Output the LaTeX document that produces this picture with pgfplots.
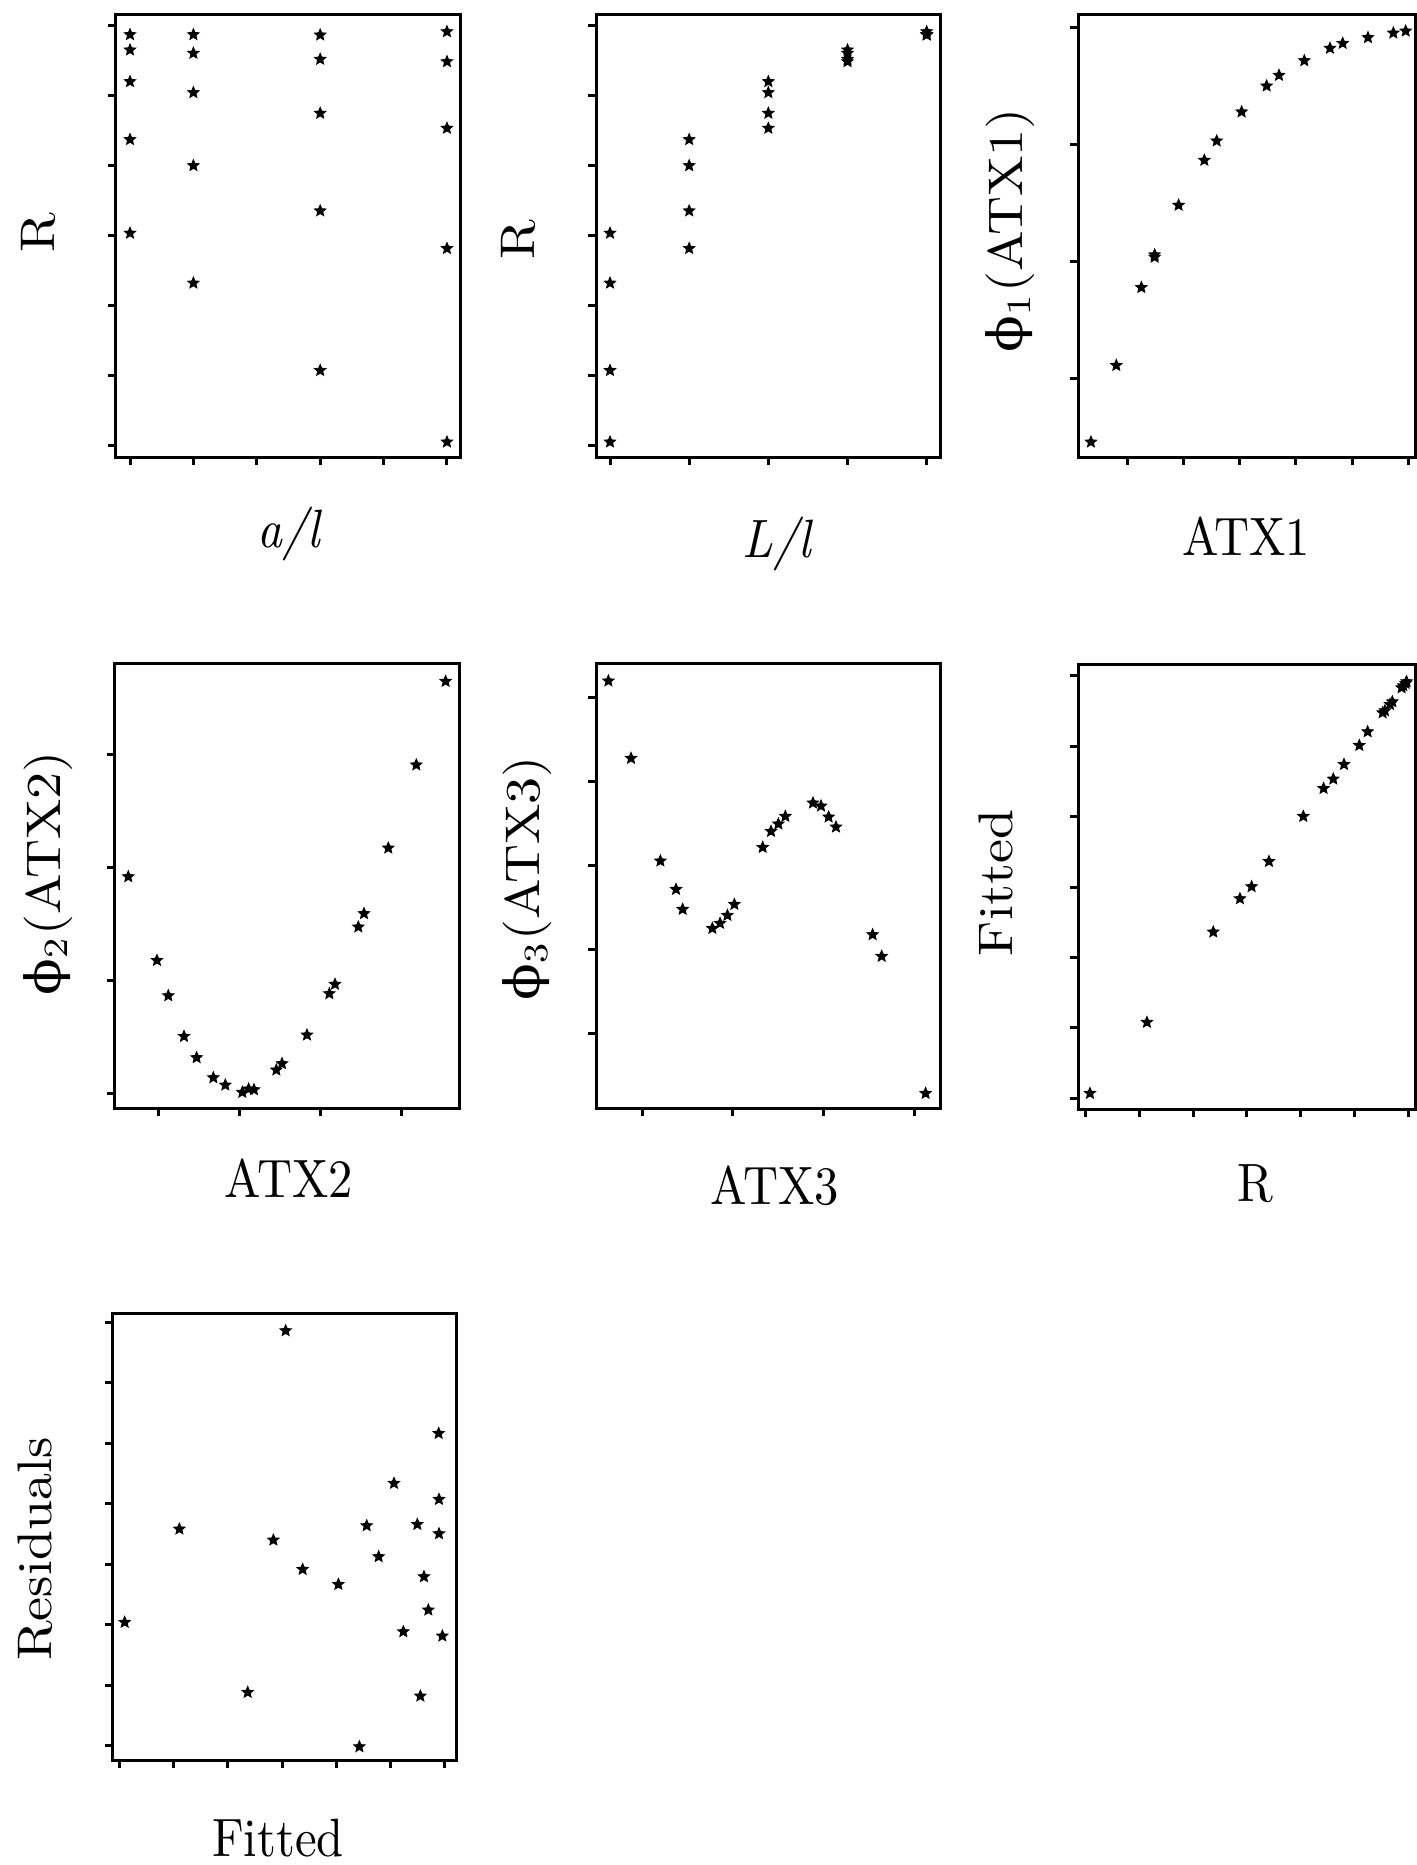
\documentclass[border=0pt]{standalone}
\usepackage{fontspec}
\usepackage{graphicx}
\usepackage{pgfplots}
\pgfplotsset{compat=1.18}
\newfontfamily\grk{DejaVu Serif}
\pgfdeclareplotmark{fstar}{%
  \pgfpathmoveto{\pgfpointpolar{90}{\pgfplotmarksize}}%
  \pgfpathlineto{\pgfpointpolar{126}{0.45\pgfplotmarksize}}%
  \pgfpathlineto{\pgfpointpolar{162}{\pgfplotmarksize}}%
  \pgfpathlineto{\pgfpointpolar{198}{0.45\pgfplotmarksize}}%
  \pgfpathlineto{\pgfpointpolar{234}{\pgfplotmarksize}}%
  \pgfpathlineto{\pgfpointpolar{270}{0.45\pgfplotmarksize}}%
  \pgfpathlineto{\pgfpointpolar{306}{\pgfplotmarksize}}%
  \pgfpathlineto{\pgfpointpolar{342}{0.45\pgfplotmarksize}}%
  \pgfpathlineto{\pgfpointpolar{18}{\pgfplotmarksize}}%
  \pgfpathlineto{\pgfpointpolar{54}{0.45\pgfplotmarksize}}%
  \pgfpathclose
  \pgfusepathqfillstroke}
\pgfplotsset{
  pan/.style={
    scale only axis,
    anchor=north west,
    axis line style={line width=0.6pt},
    tick align=outside,
    xtick pos=left, ytick pos=left,
    major tick length=1.6pt,
    tick style={line width=0.6pt, black},
    xticklabels={}, yticklabels={},
    label style={font=\fontsize{10.8}{13}\selectfont},
    ylabel style={anchor=base},
    xlabel style={anchor=base},
  },
  pts/.style={only marks, mark=fstar, mark size=1.15pt,
    mark options={fill=black, draw=black, line width=0.2pt}},
}
\newcommand{\xl}[1]{\scalebox{0.9}[1]{#1}}
\newcommand{\yl}[1]{\scalebox{1}[0.9]{#1}}
\begin{document}
\begin{tikzpicture}
\useasboundingbox (0pt,0pt) rectangle (283.4pt,-373pt);
% ---------- Row 1, plot 1: R vs a/l
\begin{axis}[pan, at={(23.2pt,-2.8pt)}, width=69pt, height=88.6pt,
  xmin=-0.221, xmax=5.221, ymin=-0.162, ymax=6.166,
  xtick={0,...,5}, ytick={0,...,6},
  xlabel={\xl{\textit{a/l}}}, ylabel={\yl{R}},
  xlabel style={at={(axis description cs:0.504,-0.205)}},
  ylabel style={at={(axis description cs:-0.177,0.506)}}]
\addplot[pts] coordinates {
 (0,5.872) (0,5.653) (0,5.201) (0,4.373) (0,3.036)
 (1,5.872) (1,5.606) (1,5.044) (1,4.001) (1,2.323)
 (3,5.867) (3,5.520) (3,4.749) (3,3.355) (3,1.075)
 (5,5.914) (5,5.486) (5,4.535) (5,2.817) (5,0.053)};
\end{axis}
% ---------- Row 1, plot 2: R vs L/l
\begin{axis}[pan, at={(119.2pt,-2.8pt)}, width=68.94pt, height=88.6pt,
  xmin=-0.177, xmax=4.177, ymin=-0.162, ymax=6.166,
  xtick={0,...,4}, ytick={0,...,6},
  xlabel={\xl{\textit{L/l}}}, ylabel={\yl{R}},
  xlabel style={at={(axis description cs:0.528,-0.226)}},
  ylabel style={at={(axis description cs:-0.177,0.491)}}]
\addplot[pts] coordinates {
 (0,3.036) (1,4.373) (2,5.201) (3,5.653) (4,5.872)
 (0,2.323) (1,4.001) (2,5.044) (3,5.606) (4,5.872)
 (0,1.075) (1,3.355) (2,4.749) (3,5.520) (4,5.867)
 (0,0.053) (1,2.817) (2,4.535) (3,5.486) (4,5.914)};
\end{axis}
% ---------- Row 1, plot 3: phi1(ATX1) vs ATX1
\begin{axis}[pan, at={(215.66pt,-2.8pt)}, width=67.54pt, height=88.6pt,
  xmin=-0.872, xmax=5.136, ymin=-0.668, ymax=3.113,
  xtick={0,...,5}, ytick={0,...,3},
  xlabel={\xl{ATX1}}, ylabel={\yl{{\grk ϕ}\textsubscript{1}(ATX1)}},
  xlabel style={at={(axis description cs:0.497,-0.223)}},
  ylabel style={at={(axis description cs:-0.164,0.512)}}]
\addplot[pts] coordinates {
 (-0.647,-0.540) (-0.196,0.114) (0.249,0.779) (0.486,1.058) (0.486,1.038)
 (0.913,1.481) (1.370,1.865) (1.590,2.030) (2.034,2.278) (2.479,2.499)
 (2.699,2.590) (3.149,2.715) (3.606,2.821) (3.832,2.863) (4.282,2.912)
 (4.733,2.951) (4.953,2.968)};
\end{axis}
% ---------- Row 2, plot 4: phi2(ATX2) vs ATX2
\begin{axis}[pan, at={(23pt,-132.66pt)}, width=69pt, height=88.94pt,
  xmin=-0.543, xmax=3.716, ymin=-0.124, ymax=3.803,
  xtick={0,...,3}, ytick={0,...,3},
  xlabel={\xl{ATX2}}, ylabel={\yl{{\grk ϕ}\textsubscript{2}(ATX2)}},
  xlabel style={at={(axis description cs:0.504,-0.202)}},
  ylabel style={at={(axis description cs:-0.159,0.528)}}]
\addplot[pts] coordinates {
 (-0.379,1.919) (-0.025,1.180) (0.115,0.868) (0.309,0.509) (0.465,0.321)
 (0.671,0.144) (0.819,0.079) (1.029,0.015) (1.107,0.044) (1.173,0.038)
 (1.449,0.212) (1.519,0.268) (1.827,0.521) (2.103,0.886) (2.173,0.969)
 (2.461,1.475) (2.531,1.593) (2.831,2.172) (3.177,2.906) (3.539,3.644)};
\end{axis}
% ---------- Row 2, plot 5: phi3(ATX3) vs ATX3
\begin{axis}[pan, at={(119.2pt,-132.66pt)}, width=68.8pt, height=88.94pt,
  xmin=-0.512, xmax=3.287, ymin=-0.890, ymax=4.409,
  xtick={0,...,3}, ytick={0,...,4},
  xlabel={\xl{ATX3}}, ylabel={\yl{{\grk ϕ}\textsubscript{3}(ATX3)}},
  xlabel style={at={(axis description cs:0.520,-0.218)}},
  ylabel style={at={(axis description cs:-0.163,0.517)}}]
\addplot[pts] coordinates {
 (-0.375,4.199) (-0.125,3.277) (0.199,2.054) (0.372,1.716) (0.445,1.478)
 (0.773,1.251) (0.858,1.311) (0.939,1.406) (1.016,1.537) (1.329,2.216)
 (1.421,2.407) (1.502,2.495) (1.579,2.586) (1.884,2.745) (1.973,2.709)
 (2.057,2.578) (2.138,2.459) (2.543,1.176) (2.643,0.918) (3.128,-0.715)};
\end{axis}
% ---------- Row 2, plot 6: Fitted vs R
\begin{axis}[pan, at={(215.66pt,-132.8pt)}, width=67.54pt, height=89.06pt,
  xmin=-0.136, xmax=6.144, ymin=-0.156, ymax=6.170,
  xtick={0,...,6}, ytick={0,...,6},
  xlabel={\xl{R}}, ylabel={\yl{Fitted}},
  xlabel style={at={(axis description cs:0.523,-0.208)}},
  ylabel style={at={(axis description cs:-0.196,0.508)}}]
\addplot[pts] coordinates {
 (0.081,0.071) (1.141,1.080) (2.374,2.363) (2.870,2.836) (3.087,3.007)
 (3.410,3.366) (4.048,4.006) (4.426,4.403) (4.606,4.536) (4.805,4.744)
 (5.090,5.014) (5.245,5.208) (5.524,5.478) (5.567,5.507) (5.660,5.597)
 (5.704,5.634) (5.877,5.833) (5.908,5.862) (5.952,5.895) (5.970,5.919)};
\end{axis}
% ---------- Row 3, plot 7: Residuals vs Fitted
\begin{axis}[pan, at={(22.54pt,-262.66pt)}, width=68.66pt, height=89.34pt,
  xmin=-0.123, xmax=6.204, ymin=-0.237, ymax=7.150,
  xtick={0,...,6}, ytick={0,...,7},
  xlabel={\xl{Fitted}}, ylabel={\yl{Residuals}},
  xlabel style={at={(axis description cs:0.481,-0.217)}},
  ylabel style={at={(axis description cs:-0.177,0.472)}}]
\addplot[pts] coordinates {
 (0.098,2.040) (1.106,3.583) (2.365,0.882) (2.838,3.401) (3.065,6.863)
 (3.378,2.916) (4.036,2.668) (4.423,-0.017) (4.558,3.638) (4.779,3.126)
 (5.061,4.339) (5.233,1.885) (5.491,3.660) (5.547,0.821) (5.614,2.795)
 (5.694,2.244) (5.885,5.165) (5.891,4.074) (5.891,3.506) (5.952,1.814)};
\end{axis}
\end{tikzpicture}
\end{document}
